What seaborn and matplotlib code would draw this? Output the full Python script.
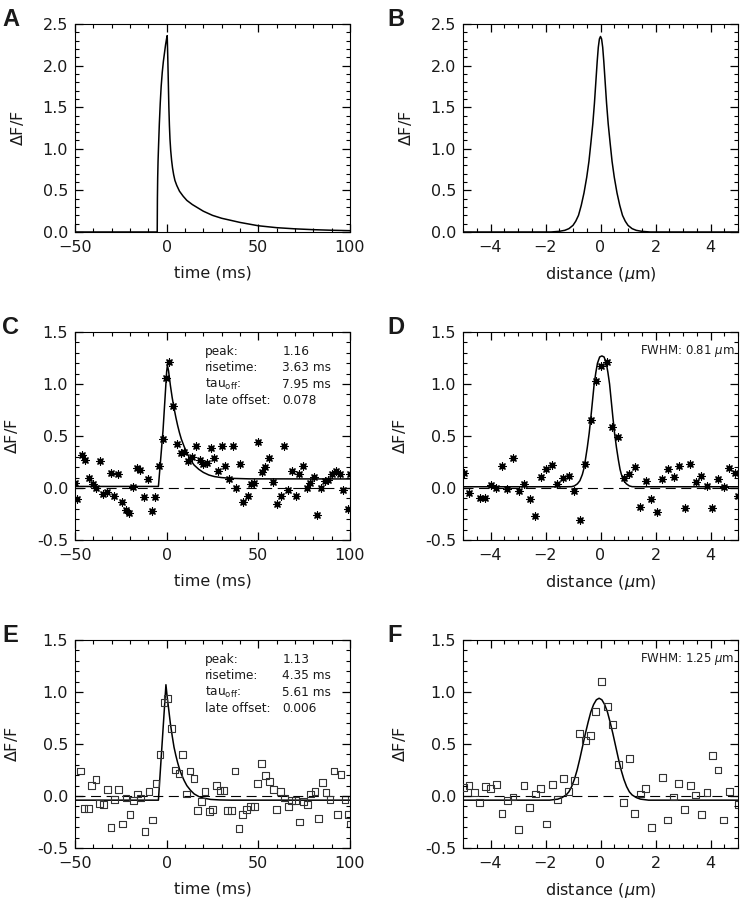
import matplotlib
matplotlib.use("Agg")
import matplotlib.pyplot as plt
from matplotlib.ticker import MultipleLocator, FormatStrFormatter
import seaborn as sns

# --- DATA ---
# A: model transient (time)
a_time = [-50, -5.15, -5.05, -4.9, -4.7, -4.4, -4.0, -3.5, -3.0, -2.4, -1.8, -1.2, -0.6, 0.0, 0.3,
          0.6, 0.9, 1.2, 1.5, 1.8, 2.2, 2.7, 3.2, 3.8, 4.5, 5.5, 7, 9, 11, 14, 17, 20,
          25, 30, 35, 40, 45, 50, 60, 70, 80, 90, 100]
a_dff = [0.0, 0.0, 0.4, 0.65, 0.85, 1.05, 1.3, 1.55, 1.75, 1.92, 2.05, 2.15, 2.25, 2.33, 2.36,
         2.1, 1.8, 1.5, 1.28, 1.12, 0.98, 0.86, 0.77, 0.69, 0.62, 0.56, 0.49, 0.43, 0.38, 0.33, 0.29, 0.25,
         0.2, 0.165, 0.14, 0.115, 0.095, 0.075, 0.052, 0.038, 0.028, 0.021, 0.016]

# B: model profile (distance)
b_dist = [-5, -1.8, -1.5, -1.3, -1.15, -1.0, -0.9, -0.8, -0.7, -0.6, -0.5, -0.42, -0.35, -0.28,
          -0.22, -0.17, -0.12, -0.08, -0.04, 0.0, 0.04, 0.08, 0.12, 0.17, 0.22, 0.28, 0.35,
          0.42, 0.5, 0.6, 0.7, 0.8, 0.9, 1.0, 1.15, 1.3, 1.5, 1.8, 5]
b_dff = [0.0, 0.0, 0.008, 0.02, 0.04, 0.08, 0.13, 0.2, 0.32, 0.47, 0.66, 0.85, 1.07, 1.3,
         1.55, 1.8, 2.05, 2.22, 2.32, 2.35, 2.32, 2.22, 2.05, 1.8, 1.55, 1.3, 1.07,
         0.85, 0.66, 0.47, 0.32, 0.2, 0.13, 0.08, 0.04, 0.02, 0.008, 0.0, 0.0]

# C: measured transient (asterisks) + fit
c_time = [-50, -48.7, -46.4, -44.5, -42.4, -40.4, -38.5, -36.4, -34.5, -32.4, -30.4, -28.5,
          -26.4, -24.5, -22.2, -20.4, -18.5, -16.4, -14.5, -12.4, -10.4, -8.2, -6.2, -4.4,
          -2.2, -0.4, 1.5, 3.6, 5.8, 7.8, 9.6, 11.8, 14.0, 16.0, 18.2, 20.0, 21.8, 24.0,
          26.0, 27.8, 30.0, 31.8, 34.2, 36.0, 37.8, 40.0, 41.8, 44.2, 46.0, 47.8, 50.0,
          51.8, 53.6, 56.0, 58.2, 60.4, 62.2, 64.2, 66.4, 68.2, 70.5, 72.4, 74.2, 76.4,
          78.2, 80.4, 82.2, 84.2, 86.4, 88.2, 90.4, 92.4, 94.5, 96.4, 98.7, 100]
c_dff = [0.05, -0.11, 0.32, 0.27, 0.10, 0.04, 0.0, 0.26, -0.06, -0.04, 0.14, -0.08,
         0.13, -0.13, -0.21, -0.24, 0.01, 0.19, 0.17, -0.09, 0.09, -0.22, -0.09, 0.21,
         0.47, 1.06, 1.21, 0.79, 0.42, 0.34, 0.35, 0.26, 0.30, 0.40, 0.27, 0.23, 0.24, 0.38,
         0.29, 0.16, 0.40, 0.21, 0.09, 0.40, 0.0, 0.23, -0.13, -0.08, 0.04, 0.05, 0.44,
         0.15, 0.20, 0.29, 0.06, -0.15, -0.08, 0.40, -0.02, 0.16, -0.08, 0.13, 0.21, 0.0,
         0.05, 0.11, -0.26, 0.0, 0.07, 0.08, 0.13, 0.16, 0.13, -0.02, -0.20, 0.13]
c_fit_time = [-50, -4.5, -2.0, 0.0, 0.4, 1.0, 2, 3, 4, 5, 6, 7, 8, 9.5, 11, 13, 15, 17.5,
              20, 23, 26, 30, 35, 45, 100]
c_fit_dff = [0.015, 0.015, 0.55, 1.12, 1.18, 1.13, 0.99, 0.87, 0.77, 0.68, 0.6, 0.53, 0.47, 0.4,
             0.34, 0.27, 0.22, 0.18, 0.15, 0.125, 0.11, 0.1, 0.093, 0.088, 0.087]

# D: measured profile (asterisks) + fit
d_dist = [-4.96, -4.78, -4.39, -4.19, -3.99, -3.79, -3.58, -3.39, -3.18, -2.98, -2.79, -2.58,
          -2.37, -2.18, -1.97, -1.76, -1.57, -1.36, -1.16, -0.96, -0.76, -0.58, -0.36, -0.18,
          0.03, 0.24, 0.43, 0.64, 0.84, 1.04, 1.24, 1.45, 1.64, 1.85, 2.05, 2.25, 2.45, 2.66,
          2.85, 3.06, 3.27, 3.46, 3.67, 3.87, 4.07, 4.27, 4.48, 4.68, 4.88, 5.0]
d_dff = [0.14, -0.05, -0.10, -0.10, 0.03, 0.0, 0.21, -0.01, 0.29, -0.03, 0.04, -0.11,
         -0.27, 0.11, 0.18, 0.22, 0.04, 0.10, 0.12, -0.03, -0.31, 0.23, 0.65, 1.03,
         1.17, 1.21, 0.59, 0.49, 0.10, 0.13, 0.20, -0.18, 0.07, -0.11, -0.23, 0.09, 0.18, 0.11,
         0.21, -0.19, 0.23, 0.06, 0.12, 0.02, -0.19, 0.09, 0.01, 0.19, 0.14, -0.08]
d_fit_dist = [-5, -1.25, -1.05, -0.95, -0.84, -0.75, -0.66, -0.61, -0.55, -0.48, -0.41, -0.35,
              -0.29, -0.23, -0.17, -0.11, -0.03, 0.05, 0.13, 0.21, 0.27, 0.33, 0.39, 0.45,
              0.51, 0.58, 0.65, 0.71, 0.76, 0.85, 0.94, 1.05, 1.15, 1.35, 5]
d_fit_dff = [0.012, 0.012, 0.013, 0.02, 0.04, 0.07, 0.13, 0.18, 0.27, 0.39, 0.53, 0.68,
             0.84, 1.0, 1.11, 1.2, 1.26, 1.27, 1.26, 1.2, 1.11, 1.0, 0.84, 0.68,
             0.53, 0.39, 0.27, 0.18, 0.13, 0.07, 0.04, 0.02, 0.013, 0.012, 0.012]

# E: measured transient (squares) + fit
e_time = [-46.9, -45.1, -42.7, -40.9, -38.5, -36.7, -34.5, -32.4, -30.4, -28.5, -26.4, -24.2,
          -22.2, -20.0, -18.2, -16.0, -14.2, -11.8, -9.6, -7.8, -5.8, -3.6, -1.5, 0.5, 2.7,
          4.5, 6.7, 8.7, 10.9, 12.7, 14.9, 16.9, 19.1, 20.9, 23.3, 25.1, 27.3, 29.1, 31.3,
          33.3, 35.5, 37.3, 39.5, 41.5, 43.6, 45.8, 47.8, 49.6, 51.8, 54.0, 56.0, 58.2, 60.0,
          62.2, 64.2, 66.4, 68.2, 70.4, 72.4, 74.5, 76.7, 78.5, 80.9, 82.7, 84.9, 86.9, 89.1,
          91.3, 93.3, 95.1, 97.3, 99.1, 100]
e_dff = [0.24, -0.12, -0.12, 0.10, 0.16, -0.07, -0.08, 0.06, -0.30, -0.03, 0.06, -0.27,
         -0.02, -0.18, -0.04, 0.02, -0.02, -0.34, 0.04, -0.23, 0.12, 0.40, 0.90, 0.94, 0.65,
         0.25, 0.22, 0.40, 0.02, 0.24, 0.17, -0.14, -0.05, 0.04, -0.15, -0.13, 0.10, 0.05, 0.05,
         -0.14, -0.14, 0.24, -0.31, -0.18, -0.13, -0.10, -0.10, 0.12, 0.31, 0.20, 0.14, 0.06, -0.13,
         0.04, -0.02, -0.10, -0.04, -0.04, -0.25, -0.05, -0.08, 0.02, 0.04, -0.22, 0.13, 0.03, -0.03,
         0.24, -0.18, 0.21, -0.03, -0.18, -0.27]
e_fit_time = [-50, -4.5, -2.5, -0.4, 0.3, 1, 2, 3, 4, 5, 6, 7, 8, 9.5, 11, 13, 15, 17.5,
              20, 24, 29, 35, 100]
e_fit_dff = [-0.04, -0.04, 0.5, 1.07, 0.95, 0.85, 0.7, 0.58, 0.47, 0.39, 0.32, 0.26, 0.21, 0.15,
             0.1, 0.055, 0.02, -0.005, -0.02, -0.033, -0.038, -0.04, -0.04]

# F: measured profile (squares) + fit
f_dist = [-4.97, -4.78, -4.58, -4.39, -4.18, -3.99, -3.79, -3.58, -3.39, -3.18, -2.98, -2.78,
          -2.58, -2.37, -2.18, -1.97, -1.76, -1.57, -1.36, -1.16, -0.96, -0.76, -0.56, -0.36,
          -0.18, 0.03, 0.24, 0.43, 0.64, 0.84, 1.04, 1.24, 1.45, 1.64, 1.85, 2.25, 2.45, 2.66,
          2.85, 3.06, 3.27, 3.46, 3.67, 3.87, 4.07, 4.27, 4.48, 4.68, 5.0]
f_dff = [0.08, 0.10, 0.03, -0.06, 0.09, 0.07, 0.11, -0.17, -0.04, -0.01, -0.32, 0.10,
         -0.11, 0.02, 0.07, -0.27, 0.11, -0.03, 0.17, 0.04, 0.15, 0.60, 0.53, 0.58,
         0.81, 1.10, 0.86, 0.69, 0.30, -0.06, 0.36, -0.17, 0.02, 0.07, -0.30, 0.18, -0.23, -0.01,
         0.12, -0.13, 0.10, 0.01, -0.18, 0.03, 0.39, 0.25, -0.23, 0.04, -0.08]
f_fit_dist = [-5, -1.85, -1.55, -1.4, -1.25, -1.15, -1.05, -0.95, -0.85, -0.75, -0.65, -0.55,
              -0.45, -0.35, -0.25, -0.15, -0.05, 0.05, 0.15, 0.25, 0.35, 0.45, 0.55, 0.65,
              0.75, 0.85, 0.95, 1.05, 1.15, 1.3, 1.45, 1.75, 5]
f_fit_dff = [-0.04, -0.04, -0.03, -0.015, 0.01, 0.04, 0.09, 0.16, 0.25, 0.36, 0.48, 0.6,
             0.71, 0.81, 0.88, 0.925, 0.94, 0.925, 0.88, 0.81, 0.71, 0.6, 0.48, 0.36,
             0.25, 0.16, 0.09, 0.04, 0.01, -0.015, -0.03, -0.04, -0.04]

c_stats = ["1.16", "3.63 ms", "7.95 ms", "0.078"]
e_stats = ["1.13", "4.35 ms", "5.61 ms", "0.006"]
stat_names = ["peak:", "risetime:", r"tau$_{\rm off}$:", "late offset:"]

# --- STYLE ---
sns.set_style("ticks")
plt.rcParams.update({
    "font.family": ["DejaVu Sans"],
    "font.size": 11.5,
    "text.color": "#1a1a1a",
    "axes.labelcolor": "#1a1a1a",
    "axes.linewidth": 0.8,
    "axes.edgecolor": "black",
    "axes.axisbelow": False,
    "xtick.labelsize": 11.5, "ytick.labelsize": 11.5,
    "xtick.direction": "in", "ytick.direction": "in",
    "xtick.top": True, "ytick.right": True,
    "xtick.major.size": 5.5, "ytick.major.size": 5.5,
    "xtick.minor.size": 2.8, "ytick.minor.size": 2.8,
    "xtick.major.width": 0.9, "ytick.major.width": 0.9,
    "xtick.minor.width": 0.8, "ytick.minor.width": 0.8,
    "xtick.color": "black", "ytick.color": "black",
})

fig = plt.figure(figsize=(7.43, 8.99), dpi=100)
W, H = 743.0, 899.0
col_left = [75, 463]
row_top = [24, 332, 640]
ax_w, ax_h = 275, 208
line_kw = dict(color="black", linewidth=1.1, estimator=None, sort=False)


def new_axes(i, letter):
    r, c = divmod(i, 2)
    l, t = col_left[c], row_top[r]
    ax = fig.add_axes([l / W, 1 - (t + ax_h) / H, ax_w / W, ax_h / H])
    fig.text((l - 73) / W if c == 0 else (l - 76) / W, 1 - (t - 16) / H, letter,
             fontsize=17, fontweight="bold", family="Liberation Sans", va="top", ha="left")
    return ax


def style_axis(ax, kind, ylim):
    if kind == "time":
        ax.set_xlim(-50, 100)
        ax.xaxis.set_major_locator(MultipleLocator(50))
        ax.xaxis.set_minor_locator(MultipleLocator(10))
        ax.set_xlabel("time (ms)", labelpad=7)
    else:
        ax.set_xlim(-5, 5)
        ax.xaxis.set_major_locator(MultipleLocator(2))
        ax.xaxis.set_minor_locator(MultipleLocator(0.5))
        ax.set_xlabel(r"distance ($\mu$m)", labelpad=7)
    ax.set_ylim(*ylim)
    ax.yaxis.set_major_locator(MultipleLocator(0.5))
    ax.yaxis.set_minor_locator(MultipleLocator(0.1))
    ax.yaxis.set_major_formatter(FormatStrFormatter("%.1f"))
    ax.set_ylabel(r"$\Delta$F/F", labelpad=12)


def set_ticks(ax):
    ax.set_axisbelow(False)
    ax.tick_params(which="both", top=True, right=True, bottom=True, left=True,
                   direction="in", color="black", labelcolor="#1a1a1a")
    ax.tick_params(axis="x", which="major", length=5.5, width=0.9, pad=6)
    ax.tick_params(axis="y", which="major", length=5.5, width=0.9, pad=5)
    ax.tick_params(which="minor", length=2.8, width=0.8)
    ax.xaxis.set_zorder(4)
    ax.yaxis.set_zorder(4)


def draw_points(ax, x, y, mk):
    if mk == "ast":
        sns.scatterplot(x=x, y=y, ax=ax, marker=(8, 2, 0), s=26, color="black",
                        linewidth=0.9, zorder=3)
    else:
        sns.scatterplot(x=x, y=y, ax=ax, marker="s", s=24, facecolor="none",
                        edgecolor="#333333", color="#333333", linewidth=0.8, zorder=3)


all_axes = []

# A
ax = new_axes(0, "A")
sns.lineplot(x=a_time, y=a_dff, ax=ax, **line_kw)
style_axis(ax, "time", (0, 2.5))
all_axes.append(ax)

# B
ax = new_axes(1, "B")
sns.lineplot(x=b_dist, y=b_dff, ax=ax, **line_kw)
style_axis(ax, "dist", (0, 2.5))
all_axes.append(ax)

# C / E  (transients with stats), D / F (profiles with FWHM)
panels = [
    (2, "C", "time", c_time, c_dff, c_fit_time, c_fit_dff, "ast", c_stats),
    (3, "D", "dist", d_dist, d_dff, d_fit_dist, d_fit_dff, "ast", "0.81"),
    (4, "E", "time", e_time, e_dff, e_fit_time, e_fit_dff, "sq", e_stats),
    (5, "F", "dist", f_dist, f_dff, f_fit_dist, f_fit_dff, "sq", "1.25"),
]
for i, letter, kind, px, py, fx, fy, mk, info in panels:
    ax = new_axes(i, letter)
    ax.axhline(0, color="black", linewidth=0.8, linestyle=(0, (9, 5)))
    draw_points(ax, px, py, mk)
    sns.lineplot(x=fx, y=fy, ax=ax, **line_kw)
    style_axis(ax, kind, (-0.5, 1.5))
    if kind == "time":
        for j, (name, val) in enumerate(zip(stat_names, info)):
            yy = 0.905 - j * 0.078
            ax.text(0.473, yy, name, transform=ax.transAxes, fontsize=8.7, va="center")
            ax.text(0.754, yy, val, transform=ax.transAxes, fontsize=8.7, va="center")
    else:
        ax.text(0.988, 0.91, "FWHM: " + info + r" $\mu$m", transform=ax.transAxes,
                fontsize=8.5, va="center", ha="right")
    all_axes.append(ax)

# inward IDL-style ticks on all four sides, applied after everything else
for ax in all_axes:
    set_ticks(ax)

plt.savefig("out.png", dpi=100)
